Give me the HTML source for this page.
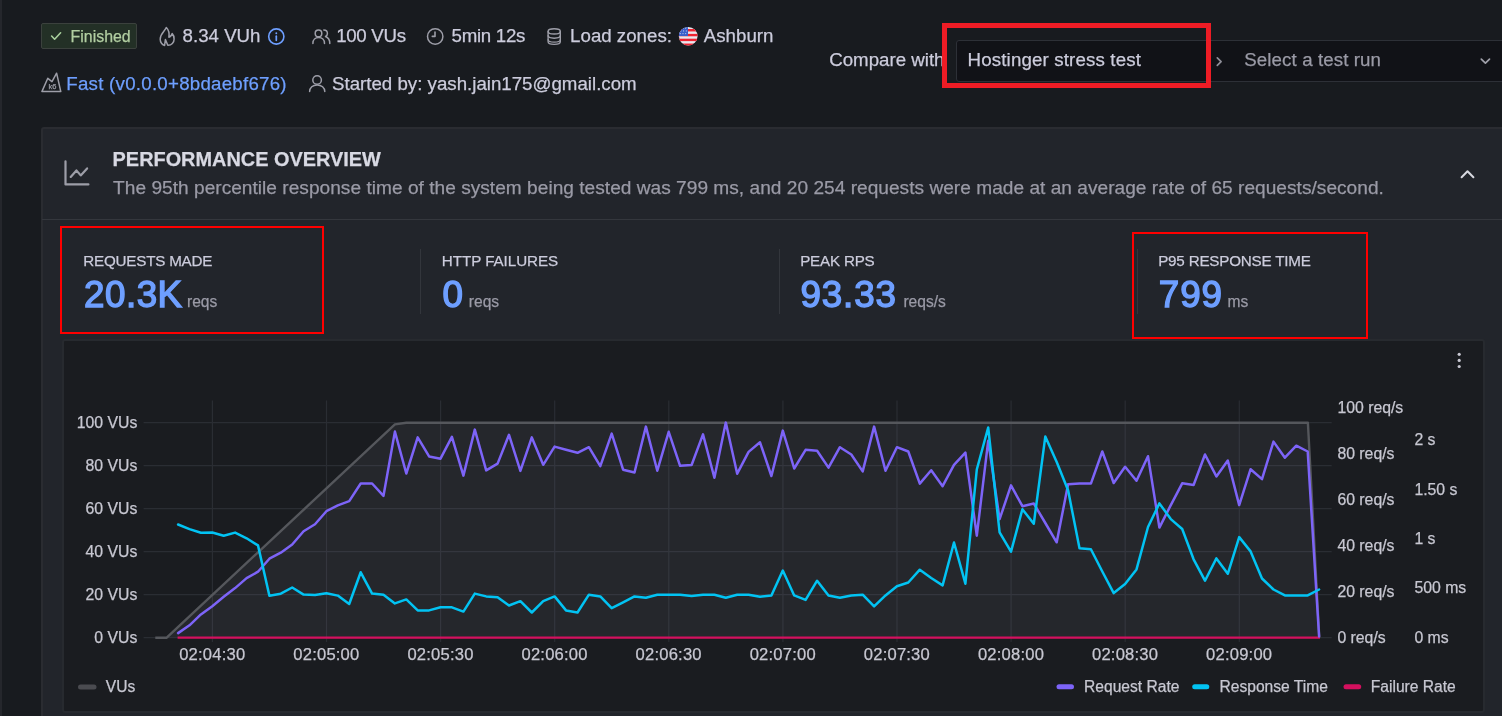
<!DOCTYPE html>
<html><head><meta charset="utf-8"><title>Performance overview</title>
<style>
html,body{margin:0;padding:0;}
body{width:1502px;height:716px;overflow:hidden;position:relative;background:#181b1f;font-family:"Liberation Sans",Arial,sans-serif;color:#ccccdc;}
.t{position:absolute;white-space:nowrap;line-height:1;-webkit-text-stroke:0.25px currentColor;}
.v{-webkit-text-stroke:1.4px currentColor;letter-spacing:0.9px;}
.b{position:absolute;box-sizing:border-box;}
svg{position:absolute;overflow:visible;}
</style></head><body>
<div class="b" style="left:0;top:0;width:1.6px;height:716px;background:#25272c;"></div>
<div class="b" style="left:41px;top:23px;width:96px;height:26px;background:#233026;border:1px solid #3b413d;border-radius:2px;"></div>
<svg style="left:0;top:0" width="1502" height="120" viewBox="0 0 1502 120" fill="none" stroke-linecap="round" stroke-linejoin="round"><polyline points="51.6,36 54.6,39.2 60.6,32.8" stroke="#a8cf9c" stroke-width="1.6"/><path d="M166.3,27.6 C164.8,31.5 160.2,33.6 160.2,39.2 C160.2,42.8 162.6,45.2 164.6,45.4 L165.4,39.6 L167.8,45.3 C171.6,45.4 174.1,42.6 174.1,38.9 C174.1,36.2 173.2,34.6 172.2,33.6 C171.6,35.4 170.6,36.8 168.9,37.2 C169.6,33.2 168.8,30.2 166.3,27.6 Z" stroke="#9d9ea8" stroke-width="1.5"/><circle cx="276.3" cy="36.5" r="7.6" stroke="#6e9fff" stroke-width="1.6"/><line x1="276.3" y1="36.2" x2="276.3" y2="40.3" stroke="#6e9fff" stroke-width="1.7"/><circle cx="276.3" cy="33.3" r="0.95" fill="#6e9fff" stroke="none"/><circle cx="318.5" cy="33.4" r="3.3" stroke="#9d9ea8" stroke-width="1.5"/><path d="M312.9,43.4 C312.9,39.8 315.4,37.6 318.7,37.6 C322,37.6 324.5,39.8 324.5,43.4" stroke="#9d9ea8" stroke-width="1.5"/><path d="M323.8,29.9 C325.9,29.9 327.4,31.5 327.4,33.4 C327.4,34.8 326.6,35.9 325.5,36.5 C328,37.5 329.8,40 329.8,43.4" stroke="#9d9ea8" stroke-width="1.5"/><circle cx="435.2" cy="36.5" r="7.7" stroke="#9d9ea8" stroke-width="1.5"/><polyline points="435,32 435,36.4 432.3,36.4" stroke="#9d9ea8" stroke-width="1.6"/><ellipse cx="554.2" cy="31.4" rx="6.1" ry="2.6" stroke="#9d9ea8" stroke-width="1.4"/><path d="M548.1,31.4 L548.1,41.8 C548.1,43.3 550.8,44.4 554.2,44.4 C557.6,44.4 560.3,43.3 560.3,41.8 L560.3,31.4" stroke="#9d9ea8" stroke-width="1.4"/><path d="M548.1,35.6 C548.1,37.1 550.8,38.2 554.2,38.2 C557.6,38.2 560.3,37.1 560.3,35.6" stroke="#9d9ea8" stroke-width="1.4"/><path d="M548.1,39.6 C548.1,41.1 550.8,42.2 554.2,42.2 C557.6,42.2 560.3,41.1 560.3,39.6" stroke="#9d9ea8" stroke-width="1.2"/><path d="M41.9,91.6 L47.8,78.3 L52,81.6 L56.6,73.2 L60.8,91.6 Z" stroke="#9d9ea8" stroke-width="1.5"/><circle cx="317.1" cy="80" r="4.3" stroke="#9d9ea8" stroke-width="1.5"/><path d="M309.6,91.6 C309.6,87.6 312.8,84.9 317.1,84.9 C321.4,84.9 324.8,87.6 324.8,91.6" stroke="#9d9ea8" stroke-width="1.5"/></svg>
<div class="t " style="top:82.85px;font-size:7.5px;left:48.60px;color:#9d9ea8;letter-spacing:-0.2px;">k6</div>
<svg style="left:678px;top:26px" width="21" height="21" viewBox="0 0 21 21"><defs><clipPath id="fc"><circle cx="10.2" cy="10.2" r="9.3"/></clipPath></defs><g clip-path="url(#fc)"><rect x="0" y="0" width="21" height="21" fill="#e8e8ee"/><rect x="0" y="3.02" width="21" height="2.42" fill="#ee2230"/><rect x="0" y="7.86" width="21" height="2.42" fill="#ee2230"/><rect x="0" y="12.70" width="21" height="2.42" fill="#ee2230"/><rect x="0" y="17.54" width="21" height="2.42" fill="#ee2230"/><rect x="0" y="0" width="10" height="10" fill="#3b5fc9"/><circle cx="2.3" cy="2.2" r="0.55" fill="#c8d2f0"/><circle cx="5.0" cy="2.2" r="0.55" fill="#c8d2f0"/><circle cx="7.7" cy="2.2" r="0.55" fill="#c8d2f0"/><circle cx="2.9" cy="4.9" r="0.55" fill="#c8d2f0"/><circle cx="5.6" cy="4.9" r="0.55" fill="#c8d2f0"/><circle cx="8.3" cy="4.9" r="0.55" fill="#c8d2f0"/><circle cx="2.3" cy="7.6" r="0.55" fill="#c8d2f0"/><circle cx="5.0" cy="7.6" r="0.55" fill="#c8d2f0"/><circle cx="7.7" cy="7.6" r="0.55" fill="#c8d2f0"/></g></svg>
<div class="t " style="top:29.14px;font-size:15.9px;left:70.60px;color:#b2cfa2;">Finished</div>
<div class="t " style="top:26.67px;font-size:18.7px;left:182.60px;color:#ccccdc;">8.34 VUh</div>
<div class="t " style="top:26.67px;font-size:18.7px;left:336.20px;color:#ccccdc;letter-spacing:-0.3px;">100 VUs</div>
<div class="t " style="top:26.67px;font-size:18.7px;left:451.60px;color:#ccccdc;letter-spacing:-0.3px;">5min 12s</div>
<div class="t " style="top:26.67px;font-size:18.7px;left:570.10px;color:#ccccdc;">Load zones:</div>
<div class="t " style="top:26.67px;font-size:18.7px;left:703.80px;color:#ccccdc;">Ashburn</div>
<div class="t " style="top:74.67px;font-size:18.7px;left:66.30px;color:#6e9fff;letter-spacing:0.25px;">Fast (v0.0.0+8bdaebf676)</div>
<div class="t " style="top:74.67px;font-size:18.7px;left:332.00px;color:#ccccdc;">Started by: yash.jain175@gmail.com</div>
<div class="t " style="top:50.77px;font-size:18.7px;left:829.20px;color:#ccccdc;">Compare with</div>
<div class="b" style="left:956px;top:39.5px;width:560px;height:42px;background:#111217;border:1px solid #2d3037;border-radius:3px;"></div>
<div class="t " style="top:50.57px;font-size:18.7px;left:967.60px;color:#ccccdc;letter-spacing:0.15px;">Hostinger stress test</div>
<div class="t " style="top:50.57px;font-size:18.7px;left:1244.30px;color:#9a9aa6;letter-spacing:0.1px;">Select a test run</div>
<svg style="left:0;top:0" width="1502" height="100" viewBox="0 0 1502 100" fill="none" stroke-linecap="round" stroke-linejoin="round"><polyline points="1217.3,57.8 1221.1,61.6 1217.3,65.4" stroke="#8e8e98" stroke-width="1.7"/><polyline points="1481.3,59.1 1485.4,63.2 1489.5,59.1" stroke="#a0a0aa" stroke-width="1.7"/></svg>
<div class="b" style="left:40.6px;top:127px;width:1480px;height:620px;background:#22252b;border:2px solid #2a2c31;border-radius:3px;"></div>
<div class="b" style="left:42px;top:218.5px;width:1470px;height:1.2px;background:#34373d;"></div>
<svg style="left:0;top:150px" width="1502" height="50" viewBox="0 150 1502 50" fill="none" stroke-linecap="round" stroke-linejoin="round"><polyline points="65.5,161.3 65.5,184.4 88.4,184.4" stroke="#9d9ea8" stroke-width="2.2"/><polyline points="70.7,176.9 76.4,170.4 80.7,175.4 87.1,168.4" stroke="#9d9ea8" stroke-width="2.2"/><polyline points="1461.6,177.2 1467.5,171.3 1473.4,177.2" stroke="#d8d9e0" stroke-width="2"/></svg>
<div class="t " style="top:149.75px;font-size:19.9px;left:112.60px;color:#d8d9e3;font-weight:bold;">PERFORMANCE OVERVIEW</div>
<div class="t " style="top:178.43px;font-size:19.1px;left:113.10px;color:#9a9aa6;letter-spacing:0.024px;">The 95th percentile response time of the system being tested was 799 ms, and 20 254 requests were made at an average rate of 65 requests/second.</div>
<div class="b" style="left:420.0px;top:249.4px;width:1.2px;height:65px;background:#33363c;"></div>
<div class="b" style="left:778.8px;top:249.4px;width:1.2px;height:65px;background:#33363c;"></div>
<div class="b" style="left:1137.1px;top:249.4px;width:1.2px;height:65px;background:#33363c;"></div>
<div class="t " style="top:253.43px;font-size:15.2px;left:83.20px;color:#ccccdc;letter-spacing:-0.2px;">REQUESTS MADE</div>
<div class="t v" style="top:277.05px;font-size:36.8px;left:84.00px;color:#6e9fff;letter-spacing:0.5px;">20.3K</div>
<div class="t " style="top:294.19px;font-size:15.6px;left:187.00px;color:#9a9aa6;">reqs</div>
<div class="t " style="top:253.43px;font-size:15.2px;left:441.80px;color:#ccccdc;letter-spacing:-0.05px;">HTTP FAILURES</div>
<div class="t v" style="top:277.05px;font-size:36.8px;left:442.40px;color:#6e9fff;">0</div>
<div class="t " style="top:294.19px;font-size:15.6px;left:468.80px;color:#9a9aa6;">reqs</div>
<div class="t " style="top:253.43px;font-size:15.2px;left:800.20px;color:#ccccdc;letter-spacing:-0.2px;">PEAK RPS</div>
<div class="t v" style="top:277.05px;font-size:36.8px;left:800.40px;color:#6e9fff;">93.33</div>
<div class="t " style="top:294.19px;font-size:15.6px;left:903.40px;color:#9a9aa6;">reqs/s</div>
<div class="t " style="top:253.43px;font-size:15.2px;left:1158.20px;color:#ccccdc;letter-spacing:-0.2px;">P95 RESPONSE TIME</div>
<div class="t v" style="top:277.05px;font-size:36.8px;left:1158.80px;color:#6e9fff;">799</div>
<div class="t " style="top:294.19px;font-size:15.6px;left:1227.50px;color:#9a9aa6;">ms</div>
<div class="b" style="left:61.6px;top:339px;width:1423.6px;height:374px;background:#1a1c20;border:2px solid #272a2f;border-radius:3px;"></div>
<svg style="left:0;top:340px" width="1502" height="40" viewBox="0 340 1502 40"><circle cx="1459.2" cy="354.3" r="1.6" fill="#c8c8d2"/><circle cx="1459.2" cy="360.4" r="1.6" fill="#c8c8d2"/><circle cx="1459.2" cy="366.5" r="1.6" fill="#c8c8d2"/></svg>
<svg style="left:0;top:0" width="1502" height="716" viewBox="0 0 1502 716" fill="none"><line x1="143.6" y1="422.7" x2="1331.7" y2="422.7" stroke="#2a2d33" stroke-width="1.2"/><line x1="143.6" y1="465.7" x2="1331.7" y2="465.7" stroke="#2a2d33" stroke-width="1.2"/><line x1="143.6" y1="508.7" x2="1331.7" y2="508.7" stroke="#2a2d33" stroke-width="1.2"/><line x1="143.6" y1="551.7" x2="1331.7" y2="551.7" stroke="#2a2d33" stroke-width="1.2"/><line x1="143.6" y1="594.7" x2="1331.7" y2="594.7" stroke="#2a2d33" stroke-width="1.2"/><line x1="143.6" y1="637.7" x2="1331.7" y2="637.7" stroke="#2a2d33" stroke-width="1.2"/><line x1="212.4" y1="400.5" x2="212.4" y2="642" stroke="#2a2d33" stroke-width="1.2"/><line x1="326.5" y1="400.5" x2="326.5" y2="642" stroke="#2a2d33" stroke-width="1.2"/><line x1="440.6" y1="400.5" x2="440.6" y2="642" stroke="#2a2d33" stroke-width="1.2"/><line x1="554.7" y1="400.5" x2="554.7" y2="642" stroke="#2a2d33" stroke-width="1.2"/><line x1="668.8" y1="400.5" x2="668.8" y2="642" stroke="#2a2d33" stroke-width="1.2"/><line x1="782.9" y1="400.5" x2="782.9" y2="642" stroke="#2a2d33" stroke-width="1.2"/><line x1="897.0" y1="400.5" x2="897.0" y2="642" stroke="#2a2d33" stroke-width="1.2"/><line x1="1011.1" y1="400.5" x2="1011.1" y2="642" stroke="#2a2d33" stroke-width="1.2"/><line x1="1125.2" y1="400.5" x2="1125.2" y2="642" stroke="#2a2d33" stroke-width="1.2"/><line x1="1239.3" y1="400.5" x2="1239.3" y2="642" stroke="#2a2d33" stroke-width="1.2"/><polygon points="155.3,637.7 166.7,637.7 394.9,424.4 406.3,422.7 1307.9,422.7 1319.3,637.7" fill="rgba(190,190,210,0.07)"/><polyline points="155.3,637.7 166.7,637.7 394.9,424.4 406.3,422.7 1307.9,422.7 1319.3,637.7" stroke="#55575c" stroke-width="2.4" stroke-linejoin="round"/><line x1="177.6" y1="637.7" x2="1320" y2="637.7" stroke="#d4105e" stroke-width="2.2"/><polyline points="178.1,633.1 189.5,625.3 200.9,614.4 212.3,606.2 223.7,596.8 235.1,588.1 246.6,578.1 258.0,571.7 269.4,558.7 280.8,552.7 292.2,544.5 303.6,531.2 315.0,524.2 326.4,511.2 337.8,505.3 349.2,501.1 360.7,483.5 372.1,483.5 383.5,495.8 394.9,431.6 406.3,473.5 417.7,437.4 429.1,456.4 440.5,458.7 451.9,436.9 463.4,475.6 474.8,429.6 486.2,470.4 497.6,463.6 509.0,434.8 520.4,470.9 531.8,437.4 543.2,464.8 554.6,446.6 566.0,449.8 577.5,452.8 588.9,447.2 600.3,466.2 611.7,433.6 623.1,469.7 634.5,472.5 645.9,426.6 657.3,470.7 668.7,431.8 680.1,465.8 691.6,465.0 703.0,434.4 714.4,477.7 725.8,422.6 737.2,473.7 748.6,451.9 760.0,442.3 771.4,476.0 782.8,430.6 794.2,468.5 805.6,449.8 817.1,450.7 828.5,467.6 839.9,447.2 851.3,454.5 862.7,471.4 874.1,426.6 885.5,470.7 896.9,447.2 908.3,451.5 919.8,483.6 931.2,470.3 942.6,486.2 954.0,464.8 965.4,452.6 976.8,535.7 988.2,440.8 999.6,519.2 1011.0,485.4 1022.4,506.2 1033.8,503.5 1045.3,523.0 1056.7,542.3 1068.1,484.2 1079.5,483.6 1090.9,483.6 1102.3,451.5 1113.7,483.0 1125.1,466.7 1136.5,480.7 1148.0,456.2 1159.4,527.6 1170.8,505.1 1182.2,483.3 1193.6,485.0 1205.0,454.5 1216.4,476.4 1227.8,460.6 1239.2,505.1 1250.6,469.2 1262.0,479.1 1273.5,441.6 1284.9,457.7 1296.3,445.7 1307.7,451.5 1319.1,636.5" stroke="#7d64f8" stroke-width="2.5" stroke-linejoin="round" stroke-linecap="round"/><polyline points="178.1,524.5 189.5,529.1 200.9,532.7 212.3,532.5 223.7,535.8 235.1,532.6 246.6,538.3 258.0,545.4 269.4,595.7 280.8,593.7 292.2,587.5 303.6,594.6 315.0,594.9 326.4,593.2 337.8,595.6 349.2,604.0 360.7,572.3 372.1,593.6 383.5,594.7 394.9,603.4 406.3,599.4 417.7,610.4 429.1,610.4 440.5,607.3 451.9,607.3 463.4,611.6 474.8,593.6 486.2,596.4 497.6,597.3 509.0,605.5 520.4,601.2 531.8,612.5 543.2,601.2 554.6,596.4 566.0,610.4 577.5,612.5 588.9,594.7 600.3,596.4 611.7,608.1 623.1,602.4 634.5,596.4 645.9,597.7 657.3,594.7 668.7,594.7 680.1,594.7 691.6,595.9 703.0,594.7 714.4,594.7 725.8,597.7 737.2,594.7 748.6,594.7 760.0,596.8 771.4,595.4 782.8,570.6 794.2,595.4 805.6,599.9 817.1,580.7 828.5,595.4 839.9,597.7 851.3,595.4 862.7,594.7 874.1,606.4 885.5,595.4 896.9,586.3 908.3,582.5 919.8,569.7 931.2,578.0 942.6,585.4 954.0,542.5 965.4,583.7 976.8,469.5 988.2,427.5 999.6,532.3 1011.0,551.7 1022.4,509.2 1033.8,523.7 1045.3,436.6 1056.7,462.0 1068.1,490.3 1079.5,548.3 1090.9,549.3 1102.3,571.5 1113.7,593.1 1125.1,584.1 1136.5,569.4 1148.0,527.0 1159.4,503.4 1170.8,519.1 1182.2,529.0 1193.6,559.3 1205.0,580.7 1216.4,558.4 1227.8,573.8 1239.2,537.1 1250.6,551.4 1262.0,578.5 1273.5,589.5 1284.9,595.4 1296.3,595.4 1307.7,595.4 1319.1,589.5" stroke="#02c3f3" stroke-width="2.5" stroke-linejoin="round" stroke-linecap="round"/></svg>
<div class="t " style="top:414.93px;font-size:15.8px;right:1364.70px;color:#c7c7d1;">100 VUs</div>
<div class="t " style="top:457.93px;font-size:15.8px;right:1364.70px;color:#c7c7d1;">80 VUs</div>
<div class="t " style="top:500.93px;font-size:15.8px;right:1364.70px;color:#c7c7d1;">60 VUs</div>
<div class="t " style="top:543.93px;font-size:15.8px;right:1364.70px;color:#c7c7d1;">40 VUs</div>
<div class="t " style="top:586.93px;font-size:15.8px;right:1364.70px;color:#c7c7d1;">20 VUs</div>
<div class="t " style="top:629.93px;font-size:15.8px;right:1364.70px;color:#c7c7d1;">0 VUs</div>
<div class="t " style="top:400.13px;font-size:15.8px;left:1337.40px;color:#c7c7d1;">100 req/s</div>
<div class="t " style="top:446.13px;font-size:15.8px;left:1337.40px;color:#c7c7d1;">80 req/s</div>
<div class="t " style="top:492.13px;font-size:15.8px;left:1337.40px;color:#c7c7d1;">60 req/s</div>
<div class="t " style="top:538.13px;font-size:15.8px;left:1337.40px;color:#c7c7d1;">40 req/s</div>
<div class="t " style="top:584.13px;font-size:15.8px;left:1337.40px;color:#c7c7d1;">20 req/s</div>
<div class="t " style="top:630.13px;font-size:15.8px;left:1337.40px;color:#c7c7d1;">0 req/s</div>
<div class="t " style="top:432.33px;font-size:15.8px;left:1414.40px;color:#c7c7d1;">2 s</div>
<div class="t " style="top:482.03px;font-size:15.8px;left:1414.40px;color:#c7c7d1;">1.50 s</div>
<div class="t " style="top:531.13px;font-size:15.8px;left:1414.40px;color:#c7c7d1;">1 s</div>
<div class="t " style="top:580.33px;font-size:15.8px;left:1414.40px;color:#c7c7d1;">500 ms</div>
<div class="t " style="top:629.83px;font-size:15.8px;left:1414.40px;color:#c7c7d1;">0 ms</div>
<div class="t " style="top:647.15px;font-size:16.6px;left:12.30px;width:400px;text-align:center;color:#c7c7d1;letter-spacing:0.2px;">02:04:30</div>
<div class="t " style="top:647.15px;font-size:16.6px;left:126.40px;width:400px;text-align:center;color:#c7c7d1;letter-spacing:0.2px;">02:05:00</div>
<div class="t " style="top:647.15px;font-size:16.6px;left:240.50px;width:400px;text-align:center;color:#c7c7d1;letter-spacing:0.2px;">02:05:30</div>
<div class="t " style="top:647.15px;font-size:16.6px;left:354.60px;width:400px;text-align:center;color:#c7c7d1;letter-spacing:0.2px;">02:06:00</div>
<div class="t " style="top:647.15px;font-size:16.6px;left:468.70px;width:400px;text-align:center;color:#c7c7d1;letter-spacing:0.2px;">02:06:30</div>
<div class="t " style="top:647.15px;font-size:16.6px;left:582.80px;width:400px;text-align:center;color:#c7c7d1;letter-spacing:0.2px;">02:07:00</div>
<div class="t " style="top:647.15px;font-size:16.6px;left:696.90px;width:400px;text-align:center;color:#c7c7d1;letter-spacing:0.2px;">02:07:30</div>
<div class="t " style="top:647.15px;font-size:16.6px;left:811.00px;width:400px;text-align:center;color:#c7c7d1;letter-spacing:0.2px;">02:08:00</div>
<div class="t " style="top:647.15px;font-size:16.6px;left:925.10px;width:400px;text-align:center;color:#c7c7d1;letter-spacing:0.2px;">02:08:30</div>
<div class="t " style="top:647.15px;font-size:16.6px;left:1039.20px;width:400px;text-align:center;color:#c7c7d1;letter-spacing:0.2px;">02:09:00</div>
<svg style="left:0;top:670px" width="1502" height="30" viewBox="0 670 1502 30" stroke-linecap="round"><line x1="80.5" y1="687" x2="94" y2="687" stroke="#4a4b50" stroke-width="5"/><line x1="1059" y1="686.8" x2="1071.5" y2="686.8" stroke="#7d64f8" stroke-width="5"/><line x1="1194.7" y1="686.8" x2="1206.8" y2="686.8" stroke="#02c3f3" stroke-width="5"/><line x1="1346" y1="686.8" x2="1358.7" y2="686.8" stroke="#d4105e" stroke-width="5"/></svg>
<div class="t " style="top:679.09px;font-size:15.6px;left:105.80px;color:#c7c7d1;">VUs</div>
<div class="t " style="top:679.09px;font-size:15.6px;left:1084.10px;color:#c7c7d1;">Request Rate</div>
<div class="t " style="top:679.09px;font-size:15.6px;left:1219.50px;color:#c7c7d1;">Response Time</div>
<div class="t " style="top:679.09px;font-size:15.6px;left:1370.80px;color:#c7c7d1;">Failure Rate</div>
<div class="b" style="left:942px;top:23px;width:269px;height:65px;border:5px solid #ee1c25;"></div>
<div class="b" style="left:59.8px;top:225.9px;width:264.7px;height:108px;border:2.5px solid #ff0000;"></div>
<div class="b" style="left:1131.8px;top:231.9px;width:236.6px;height:107.4px;border:2.6px solid #ff0000;"></div>
</body></html>
